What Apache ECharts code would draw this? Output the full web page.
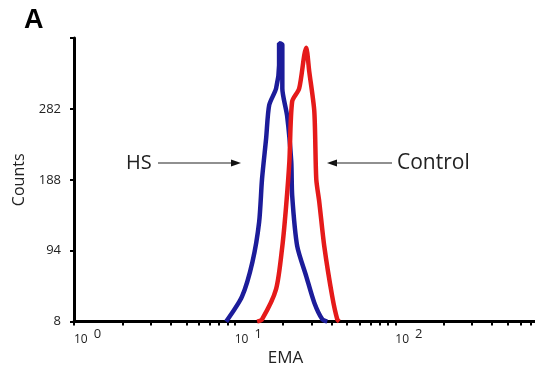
<!DOCTYPE html>
<html>
<head>
<meta charset="UTF-8" />
<script src="https://cdn.jsdelivr.net/npm/echarts@6/dist/echarts.min.js"></script>
<style>
  html, body, #main { margin: 0; padding: 0; width: 535px; height: 372px; background: #fff; }
</style>
</head>
<body>
<div id="main"></div>
<script>
// HS (blue) histogram: EMA value, counts
const hsX = [8.85, 11.1, 12.9, 14.2, 14.8, 15.7, 16.4, 18.1, 18.9, 18.9, 19.8, 19.8, 21.2, 22.5, 22.8, 24.5, 27.9, 31.3, 35.1, 37.7];
const hsY = [0, 33, 79, 132, 189, 243, 287, 309, 340, 369, 367, 309, 273, 212, 167, 100, 60, 25, 3, 0];

// Control (red) histogram
const ctrlX = [13.8, 14.8, 18.1, 19.8, 20.9, 21.9, 22.8, 25.2, 27.1, 27.9, 29.1, 31.3, 32.2, 33.6, 36.1, 40.5, 43.5, 44.8];
const ctrlY = [0, 3, 43, 100, 153, 212, 292, 309, 353, 363, 332, 279, 189, 159, 100, 33, 3, 0];

const xMajor = [1, 10, 100];
const xMinor = [2, 3, 4, 5, 6, 7, 8, 9, 20, 30, 40, 50, 60, 70, 80, 90, 200, 300, 400, 500, 600, 700];
const yTicks = [0, 94, 188, 282, 376];
const yTickLabels = ['8', '94', '188', '282', ''];

const font = '"Open Sans", "DejaVu Sans", sans-serif';
const pairs = (xs, ys) => xs.map((x, i) => [x, ys[i]]);

const chart = echarts.init(document.getElementById('main'));
chart.setOption({
  animation: false,
  grid: { left: 74, right: 0, top: 38, bottom: 50 },
  xAxis: {
    type: 'log',
    logBase: 10,
    min: 1,
    max: 740,
    name: 'EMA',
    nameLocation: 'middle',
    nameGap: 27,
    nameTextStyle: { fontFamily: font, fontSize: 17, color: '#222', padding: [0, 38, 0, 0] },
    axisLine: { lineStyle: { color: '#000', width: 3 } },
    axisTick: {
      show: true, inside: false, length: 4,
      customValues: xMajor.concat(xMinor),
      lineStyle: { color: '#000', width: 2 }
    },
    splitLine: { show: false },
    axisLabel: {
      customValues: xMajor,
      align: 'left',
      margin: 6,
      formatter: v => '{a|10}{b|' + Math.round(Math.log10(v)) + '}',
      rich: {
        a: { fontFamily: font, fontSize: 12, color: '#222' },
        b: { fontFamily: font, fontSize: 13, color: '#222', padding: [0, 0, 10, 6] }
      }
    }
  },
  yAxis: {
    type: 'value',
    min: 0,
    max: 376,
    interval: 94,
    name: 'Counts',
    nameLocation: 'middle',
    nameGap: 46,
    nameTextStyle: { fontFamily: font, fontSize: 16, color: '#222' },
    axisLine: { show: true, lineStyle: { color: '#000', width: 3 } },
    axisTick: { show: true, inside: false, length: 4, lineStyle: { color: '#000', width: 2 } },
    splitLine: { show: false },
    axisLabel: {
      fontFamily: font, fontSize: 13, color: '#222', margin: 13,
      formatter: v => yTickLabels[yTicks.indexOf(v)] ?? ''
    }
  },
  series: [
    {
      name: 'HS', type: 'line', data: pairs(hsX, hsY),
      showSymbol: false, smooth: 0.25,
      lineStyle: { color: '#1c1c9a', width: 4.5 }
    },
    {
      name: 'Control', type: 'line', data: pairs(ctrlX, ctrlY),
      showSymbol: false, smooth: 0.25,
      lineStyle: { color: '#e51a1a', width: 4.5 }
    }
  ],
  graphic: [
    { type: 'text', left: 24, top: 7, style: { text: 'A', font: 'bold 27px "Liberation Sans", Arial, sans-serif', fill: '#000' } },
    { type: 'text', x: 126, y: 163, style: { text: 'HS', font: '20px ' + font, fill: '#222', verticalAlign: 'middle' } },
    { type: 'line', shape: { x1: 158, y1: 163, x2: 234, y2: 163 }, style: { stroke: '#222', lineWidth: 1.2 } },
    { type: 'polygon', shape: { points: [[241, 163], [231, 159.5], [231, 166.5]] }, style: { fill: '#111' } },
    { type: 'polygon', shape: { points: [[327, 163], [337, 159.5], [337, 166.5]] }, style: { fill: '#111' } },
    { type: 'line', shape: { x1: 334, y1: 163, x2: 392, y2: 163 }, style: { stroke: '#222', lineWidth: 1.2 } },
    { type: 'text', x: 397, y: 163, style: { text: 'Control', font: '21px ' + font, fill: '#222', verticalAlign: 'middle' } }
  ]
});
</script>
</body>
</html>
